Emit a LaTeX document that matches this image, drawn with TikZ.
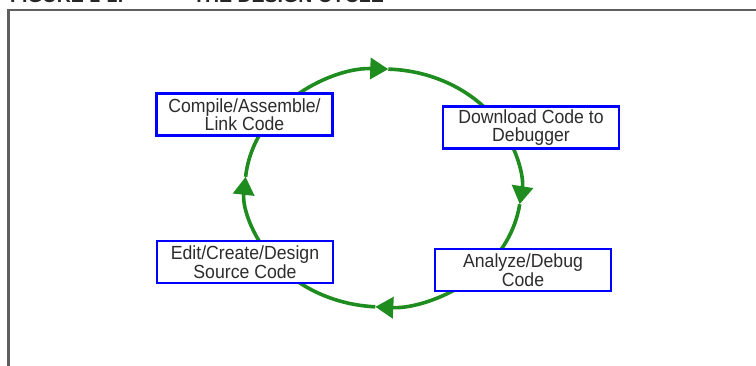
\documentclass[tikz,border=0pt]{standalone}
\usepackage{fontspec}
\setmainfont{Liberation Sans}
\newfontfamily\stagefont[FakeStretch=0.93]{Liberation Sans}
\usetikzlibrary{arrows.meta,backgrounds}

\definecolor{cyclegreen}{RGB}{30,140,30}
\definecolor{stageblue}{RGB}{0,0,255}
\definecolor{labelgray}{RGB}{45,45,45}
\definecolor{framegray}{RGB}{95,95,95}

% one leg of the elliptical cycle (radii 138pt x 119pt):
% from angle #1 to the arrow tip at angle #2, then on to angle #3
\newcommand\cycleleg[3]{%
  \draw[flow,headtip] ([shift={(#1:138pt and 119pt)}]cyc)
    arc[start angle=#1,end angle=#2,x radius=138pt,y radius=119pt];
  \draw[flow] ([shift={(#2:138pt and 119pt)}]cyc)
    arc[start angle=#2,end angle=#3,x radius=138pt,y radius=119pt];}

\begin{document}
\begin{tikzpicture}[x=1pt,y=1pt,
  stage/.style={draw=stageblue, line width=2.6pt, fill=white,
    minimum width=176pt, minimum height=42pt, inner sep=0pt,
    align=center, text=labelgray, font=\stagefont\fontsize{19}{18.5}\selectfont},
  flow/.style={draw=cyclegreen, line width=3.6pt},
  headtip/.style={-{Triangle[length=18pt,width=21pt]}},
  caption/.style={anchor=base west, inner sep=0pt, text=black!85,
    font=\bfseries\fontsize{19.5}{20}\selectfont},
]
\useasboundingbox (0,0) rectangle (756,-365);

% figure caption, running off the top edge
\node[caption] (fignum) at (10,-2.5) {FIGURE 1-1:};
\node[caption] (figtitle) at (193,-2.5) {THE DESIGN CYCLE};

% figure frame
\draw[framegray, line width=2.5pt] (770,-10) -- (8.5,-10) -- (8.5,-380);

% the four stages
\node[stage] (compile)  at (244.5,-114.5) {Compile/Assemble/\\Link Code};
\node[stage] (download) at (531,-127.5)   {Download Code to\\Debugger};
\node[stage] (analyze)  at (523,-270)     {Analyze/Debug\\Code};
\node[stage] (edit)     at (245,-262)     {Edit/Create/Design\\Source Code};

% centre of the cycle
\coordinate (cyc) at (383,-188);

% cycle legs, running clockwise behind the boxes
\begin{pgfonlayer}{background}
  \cycleleg{140}{87.8}{31}     % compile  -> download
  \cycleleg{31}{-7.8}{-46}     % download -> analyze
  \cycleleg{-46}{-93.2}{-140}  % analyze  -> edit
  \cycleleg{-140}{-185.4}{-220}% edit     -> compile
\end{pgfonlayer}
\end{tikzpicture}
\end{document}
